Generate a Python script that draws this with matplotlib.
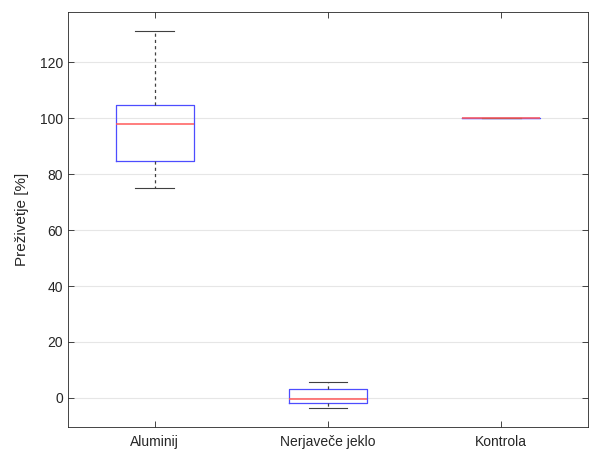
import matplotlib
matplotlib.use("Agg")
import matplotlib.pyplot as plt

plt.rcParams['font.family'] = ['Liberation Sans', 'DejaVu Sans']

categories = ["Aluminij", "Nerjaveče jeklo", "Kontrola"]
medians = [98.0, -0.4, 100.0]
q1 = [84.6, -1.8, 100.0]
q3 = [104.6, 3.2, 100.0]
whislo = [75.0, -3.6, 100.0]
whishi = [131.2, 5.7, 100.0]

stats = []
for i, c in enumerate(categories):
    stats.append(dict(label=c, med=medians[i], q1=q1[i], q3=q3[i],
                      whislo=whislo[i], whishi=whishi[i], fliers=[]))

fig = plt.figure(figsize=(5.9, 4.53), dpi=100)
ax = fig.add_axes([68/590, 1-427/453, (588-68)/590, (427-12)/453])

ax.bxp(stats, positions=[1, 2, 3], widths=0.45, showfliers=False,
       boxprops=dict(color='#4d4dff', linewidth=0.9),
       medianprops=dict(color='#ff5a5a', linewidth=1.1, zorder=6,
                        solid_capstyle='butt'),
       whiskerprops=dict(color='#404040', linestyle=(0, (2.5, 2.5)), linewidth=0.9),
       capprops=dict(color='#404040', linewidth=0.8),
       capwidths=0.225)

ax.set_xlim(0.5, 3.5)
ax.set_ylim(-10.4, 138)
ax.set_yticks([0, 20, 40, 60, 80, 100, 120])
ax.set_xticks([1, 2, 3])
ax.set_xticklabels(categories)
ax.yaxis.grid(True, color='#e6e6e6', linewidth=0.8)
ax.set_axisbelow(True)
ax.tick_params(direction='in', top=True, right=True, length=4, colors='#262626',
               labelsize=10, width=0.6)
ax.tick_params(axis='x', pad=6)
for s in ax.spines.values():
    s.set_color('#262626')
    s.set_linewidth(0.6)
ax.set_ylabel("Preživetje [%]", fontsize=11, color='#262626', labelpad=8)

fig.savefig("out.png", dpi=100)
